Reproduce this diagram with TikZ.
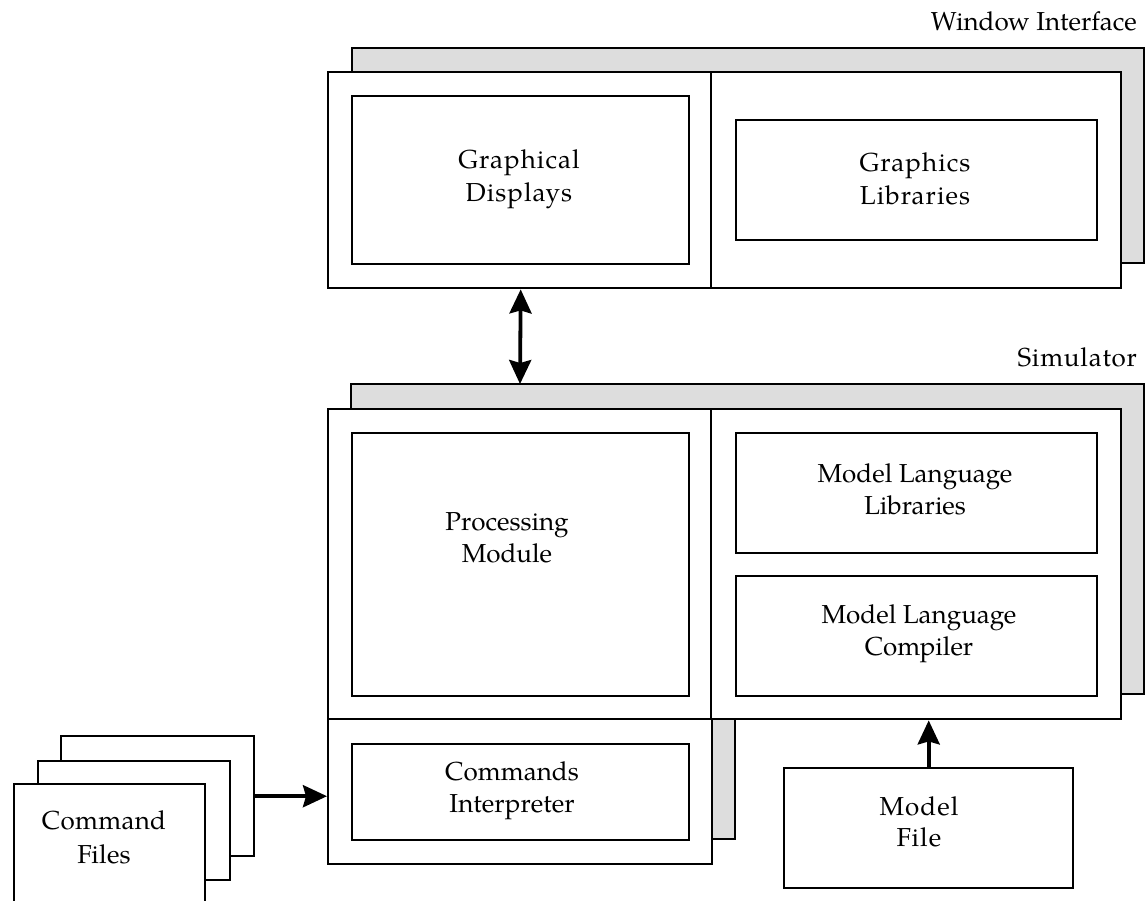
\documentclass[tikz,border=0pt]{standalone}
\usepackage{fontspec}
\setmainfont{TeX Gyre Pagella}
\usetikzlibrary{arrows.meta}
\definecolor{shadegray}{HTML}{DDDDDD}
\begin{document}
\begin{tikzpicture}[x=1pt,y=-1pt,
  box/.style={draw, line width=2.4pt, fill=white, inner sep=0pt, anchor=north west, align=center},
  shadowbox/.style={draw, line width=2.4pt, fill=shadegray},
  txtA/.style={align=center, inner sep=0pt, font={\fontsize{26}{33}\selectfont\addfontfeature{LetterSpace=4}}},
  txtB/.style={align=center, inner sep=0pt, font={\fontsize{26}{32}\selectfont}},
  lbl/.style={anchor=base east, inner sep=0pt},
  tip/.tip={Stealth[length=24pt,width=22pt,inset=3pt]},
  conn/.style={line width=3.8pt, -tip},
  dconn/.style={line width=3.8pt, tip-tip}]
\useasboundingbox (0,0) rectangle (1145,900);
\begin{scope}
\clip (0,0) rectangle (1145,900);
% ---------- Window Interface ----------
\node[lbl, font={\fontsize{26}{30}\selectfont}] (wilabel) at (1137,30) {Window Interface};
\node[box, fill=shadegray, minimum width=792pt, minimum height=215pt] (wishadow) at (351,47) {};
\node[box, minimum width=793pt, minimum height=216pt] (wi) at (327,71) {};
\draw[line width=2.4pt] ([xshift=384pt]wi.north west) -- ([xshift=384pt]wi.south west);
\node[box, minimum width=337pt, minimum height=168pt] (gd) at (351,95) {};
\node[txtA] (gdtext) at (519,179) {Graphical\\Displays};
\node[box, minimum width=361pt, minimum height=120pt] (gl) at (735,119) {};
\node[txtA] (gltext) at (915,179) {Graphics\\Libraries};
% ---------- Simulator ----------
\node[lbl, font={\fontsize{26}{30}\selectfont\addfontfeature{LetterSpace=3}}] (simlabel) at (1137,366) {Simulator};
\draw[shadowbox] (351,384) -- (1144,384) -- (1144,694) -- (735,694) -- (735,839) -- (351,839) -- cycle;
\coordinate (simtop) at (520,384);
\node[box, minimum width=793pt, minimum height=310pt] (simU) at (327,408) {};
\draw[line width=2.4pt] ([xshift=384pt]simU.north west) -- ([xshift=384pt]simU.south west);
\node[box, minimum width=384pt, minimum height=145pt] (simL) at (327,718) {};
\node[box, minimum width=337pt, minimum height=263pt] (pm) at (351,432) {};
\node[txtB] (pmtext) at (507,538) {Processing\\Module};
\node[box, minimum width=361pt, minimum height=120pt] (mll) at (735,432) {};
\node[txtB] (mlltext) at (915,489) {Model Language\\Libraries};
\node[box, minimum width=361pt, minimum height=120pt] (mlc) at (735,575) {};
\node[txtB] (mlctext) at (919,634) {Model Language\\Compiler};
\node[box, minimum width=337pt, minimum height=96pt] (ci) at (351,743) {};
\node[txtB] (citext) at (512,791) {Commands\\Interpreter};
% ---------- Command Files ----------
\node[box, minimum width=193pt, minimum height=120pt] (cf3) at (60,735) {};
\node[box, minimum width=192pt, minimum height=119pt] (cf2) at (37,760) {};
\node[box, minimum width=191pt, minimum height=120pt] (cf1) at (13,783) {};
\node[txtA, font={\fontsize{26}{34}\selectfont\addfontfeature{LetterSpace=1}}] (cftext) at (104,837) {Command\\Files};
% ---------- Model File ----------
\node[box, minimum width=289pt, minimum height=120pt] (mf) at (783,767) {};
\node[txtA, font={\fontsize{26}{31}\selectfont\addfontfeature{LetterSpace=4}}] (mftext) at (919,822) {Model\\File};
% ---------- Connectors ----------
\draw[dconn] (gd.center |- wi.south) -- (simtop);
\draw[conn] (cf3.east) -- (cf3.east -| simL.west);
\draw[conn] (mf.north) -- (mf.north |- simU.south);
\end{scope}
\end{tikzpicture}
\end{document}
